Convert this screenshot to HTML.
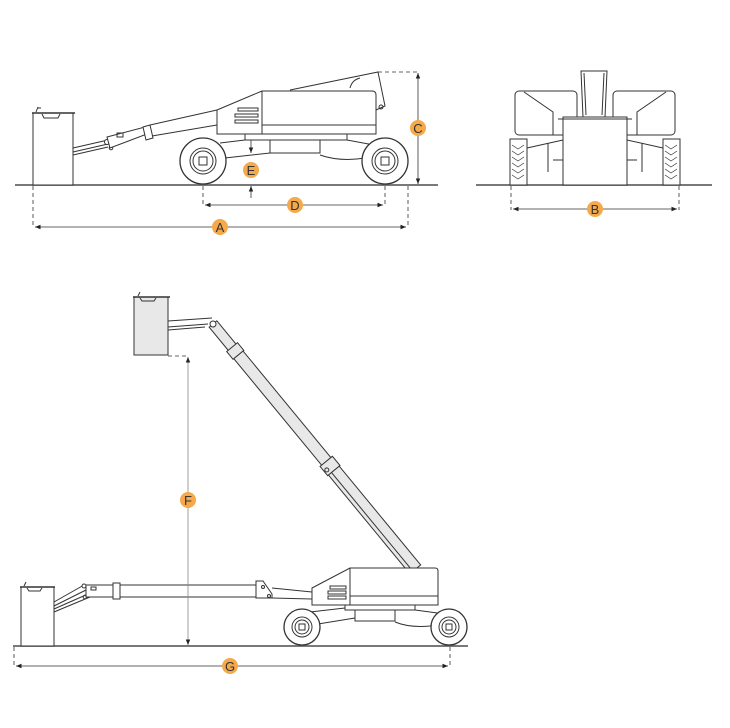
<!DOCTYPE html>
<html><head><meta charset="utf-8"><style>
html,body{margin:0;padding:0;background:#fff;}
svg{display:block;}
text{font-family:"Liberation Sans",sans-serif;font-size:13px;fill:#333;}
</style></head><body>
<svg width="730" height="728" viewBox="0 0 730 728" xmlns="http://www.w3.org/2000/svg">
<defs>
<marker id="ar" viewBox="0 0 10 10" refX="10" refY="5" markerWidth="7" markerHeight="7" orient="auto-start-reverse"><path d="M0,1 L10,5 L0,9 z" fill="#222"/></marker>
</defs>
<g fill="none" stroke="#333" stroke-width="1">

<line x1="15" y1="185" x2="438" y2="185" stroke="#666" stroke-width="1.8"/>
<rect x="33" y="113" width="40" height="72" fill="#fff"/>
<line x1="32" y1="113" x2="75" y2="113" stroke-width="1.5"/>
<path d="M42,114 L44,118 L58,118 L60,114"/>
<path d="M36,112 l2,-5 M38,108 l3,0"/>
<path d="M73,148 L108,140 M73,152 L108,144 M73,155 L108,147"/>
<circle cx="107" cy="142" r="2.5" fill="#fff"/><circle cx="111" cy="148" r="1.8"/>
<path d="M107,137 L145,127 L147,134 L110,148 Z" fill="#fff"/>
<rect x="117" y="133" width="6" height="4"/>
<path d="M143,127 L150,125 L153,138 L146,140 Z" fill="#fff"/>
<path d="M150,125 L217,110 M152,136 L217,125"/>
<path d="M217,110 L262,91 L372,91 Q376,91 376,95 L376,134 L217,134 Z" fill="#fff"/>
<line x1="262" y1="91" x2="262" y2="134"/>
<line x1="262" y1="125" x2="376" y2="125"/>
<rect x="238" y="108" width="20" height="3"/><rect x="235" y="114" width="23" height="3"/><rect x="235" y="120" width="23" height="3"/>
<path d="M290,90 L378,72 L385,106 L376,110"/>
<path d="M350,88 Q352,80 360,78"/>
<circle cx="381" cy="107" r="2"/>
<rect x="245" y="134" width="102" height="6" fill="#fff"/>
<rect x="270" y="140" width="50" height="13" fill="#fff"/>
<path d="M220,143 L245,140 M225,158 L270,153 M320,155 Q340,162 365,158 L385,150 M347,140 L385,147"/>
<circle cx="203" cy="161" r="23" fill="#fff" stroke-width="1.3"/>
<circle cx="203" cy="161" r="13" fill="#fff"/><circle cx="203" cy="161" r="10"/>
<rect x="199" y="157" width="8" height="8"/>
<circle cx="385" cy="161" r="23" fill="#fff" stroke-width="1.3"/>
<circle cx="385" cy="161" r="13" fill="#fff"/><circle cx="385" cy="161" r="10"/>
<rect x="381" y="157" width="8" height="8"/>
</g>

<g stroke="#333" stroke-width="0.8" fill="none">
<path d="M378,72 L418,72" stroke-dasharray="4 3"/>
<line x1="418" y1="73" x2="418" y2="184" marker-start="url(#ar)" marker-end="url(#ar)"/>
<line x1="251" y1="140" x2="251" y2="153" marker-end="url(#ar)"/>
<line x1="251" y1="198" x2="251" y2="186" marker-end="url(#ar)"/>
<path d="M203,186 V205 M385,186 V205 M33,186 V227 M408,186 V227" stroke-dasharray="4 3"/>
<line x1="205" y1="205" x2="383" y2="205" marker-start="url(#ar)" marker-end="url(#ar)"/>
<line x1="35" y1="227" x2="406" y2="227" marker-start="url(#ar)" marker-end="url(#ar)"/>
</g>

<g fill="none" stroke="#333" stroke-width="1">
<line x1="476" y1="185" x2="712" y2="185" stroke="#666" stroke-width="1.8"/>
<rect x="515" y="91" width="62" height="44" rx="4" fill="#fff"/>
<rect x="613" y="91" width="62" height="44" rx="4" fill="#fff"/>
<path d="M524,92 L553,112 L553,135 M666,92 L637,112 L637,135"/>
<path d="M581,71 L607,71 L605,117 L583,117 Z" fill="#fff"/>
<path d="M584,73 L586,115 M604,73 L602,115"/>
<rect x="563" y="117" width="64" height="68" fill="#fff"/>
<path d="M558,119 L632,119"/>
<path d="M527,148 L563,140 M663,148 L627,140 M548,143 V172 M642,143 V172 M553,160 H563 M627,160 H637"/>
<rect x="510" y="139" width="17" height="46" fill="#fff"/>
<rect x="663" y="139" width="17" height="46" fill="#fff"/>
<path d="M512,145 l6,4 l6,-4 M512,151 l6,4 l6,-4 M512,157 l6,4 l6,-4 M512,163 l6,4 l6,-4 M512,169 l6,4 l6,-4 M512,175 l6,4 l6,-4 M665,145 l6,4 l6,-4 M665,151 l6,4 l6,-4 M665,157 l6,4 l6,-4 M665,163 l6,4 l6,-4 M665,169 l6,4 l6,-4 M665,175 l6,4 l6,-4" stroke-width="0.7"/>
</g>
<g stroke="#333" stroke-width="0.8" fill="none">
<path d="M511,186 V210 M679,186 V210" stroke-dasharray="4 3"/>
<line x1="513" y1="209" x2="677" y2="209" marker-start="url(#ar)" marker-end="url(#ar)"/>
</g>

<g fill="none" stroke="#333" stroke-width="1">
<line x1="13" y1="646" x2="468" y2="646" stroke="#666" stroke-width="1.8"/>
<g transform="translate(213,324) rotate(50.5)">
<rect x="0" y="-5" width="32" height="10" fill="#e8e8e8"/>
<rect x="30" y="-7" width="10" height="14" fill="#e8e8e8"/>
<rect x="40" y="-6" width="140" height="12" fill="#e8e8e8"/>
<rect x="178" y="-8" width="12" height="16" fill="#e8e8e8"/>
<rect x="190" y="-7" width="128" height="14" fill="#e8e8e8"/>
<line x1="190" y1="3" x2="318" y2="3"/>
<circle cx="0" cy="0" r="3" fill="#fff"/>
<circle cx="185" cy="5" r="2"/>
</g>
<rect x="134" y="297" width="34" height="58" fill="#e8e8e8"/>
<line x1="133" y1="297" x2="170" y2="297" stroke-width="1.5"/>
<path d="M140,298 L142,301 L154,301 L156,298"/>
<path d="M138,296 l2,-4"/>
<path d="M168,321 L212,318 M168,327 L208,324 M168,330 L205,327"/>
<rect x="21" y="587" width="33" height="59" fill="#fff"/>
<line x1="20" y1="587" x2="55" y2="587" stroke-width="1.5"/>
<path d="M27,588 L29,591 L40,591 L42,588 M24,586 l2,-4"/>
<path d="M54,602 L84,585 M54,606 L86,590 M54,609 L88,594 M54,612 L90,597"/>
<circle cx="84" cy="586" r="2" fill="#fff"/><circle cx="85" cy="597" r="1.8"/>
<rect x="86" y="585" width="28" height="12" fill="#fff"/>
<rect x="91" y="587" width="5" height="3"/>
<rect x="113" y="583" width="7" height="16" fill="#fff"/>
<rect x="120" y="585" width="136" height="12" fill="#fff"/>
<path d="M256,581 L263,581 L272,594 L272,598 L256,598 Z" fill="#fff"/>
<circle cx="263" cy="587" r="1.5"/><circle cx="269" cy="596" r="1.5"/>
<path d="M272,588 L312,592 M272,598 L312,599"/>
<path d="M312,588 L350,568 L435,568 Q438,568 438,571 L438,605 L312,605 Z" fill="#fff"/>
<line x1="350" y1="568" x2="350" y2="605"/>
<line x1="350" y1="596" x2="438" y2="596"/>
<rect x="330" y="586" width="16" height="3"/><rect x="328" y="591" width="18" height="3"/><rect x="328" y="596" width="18" height="3"/>
<rect x="345" y="605" width="70" height="5" fill="#fff"/>
<rect x="355" y="610" width="40" height="11" fill="#fff"/>
<path d="M310,612 L345,608 M318,624 L355,618 M395,622 Q410,628 430,626 L445,620 M415,610 L445,614"/>
<circle cx="302" cy="627" r="18" fill="#fff" stroke-width="1.3"/>
<circle cx="302" cy="627" r="10" fill="#fff"/><circle cx="302" cy="627" r="7"/>
<rect x="299" y="624" width="6" height="6"/>
<circle cx="449" cy="627" r="18" fill="#fff" stroke-width="1.3"/>
<circle cx="449" cy="627" r="10" fill="#fff"/><circle cx="449" cy="627" r="7"/>
<rect x="446" y="624" width="6" height="6"/>
</g>
<g stroke="#333" stroke-width="0.8" fill="none">
<path d="M168,356 H188" stroke-dasharray="4 3"/>
<line x1="188" y1="357" x2="188" y2="645" stroke="#888" marker-start="url(#ar)" marker-end="url(#ar)"/>
<path d="M14,647 V666 M450,647 V666" stroke-dasharray="4 3"/>
<line x1="16" y1="666" x2="448" y2="666" marker-start="url(#ar)" marker-end="url(#ar)"/>
</g>

<g>
<circle cx="418" cy="128" r="8" fill="#f5a94a"/><text x="418" y="133" text-anchor="middle">C</text>
<circle cx="251" cy="170" r="8" fill="#f5a94a"/><text x="251" y="175" text-anchor="middle">E</text>
<circle cx="295" cy="205" r="8" fill="#f5a94a"/><text x="295" y="210" text-anchor="middle">D</text>
<circle cx="220" cy="227" r="8" fill="#f5a94a"/><text x="220" y="232" text-anchor="middle">A</text>
<circle cx="595" cy="209" r="8" fill="#f5a94a"/><text x="595" y="214" text-anchor="middle">B</text>
<circle cx="188" cy="500" r="8" fill="#f5a94a"/><text x="188" y="505" text-anchor="middle">F</text>
<circle cx="230" cy="666" r="8" fill="#f5a94a"/><text x="230" y="671" text-anchor="middle">G</text>
</g>
</svg>
</body></html>
